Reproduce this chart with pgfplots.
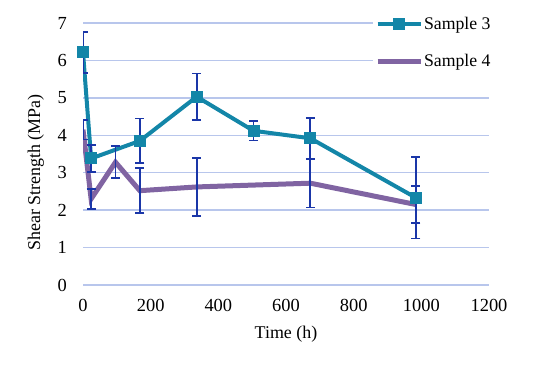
\documentclass[border=0pt]{standalone}
\usepackage{pgfplots}
\pgfplotsset{compat=1.18}
\usepackage{fontspec}
\setmainfont{Liberation Serif}
\definecolor{tealS}{HTML}{1386A8}
\definecolor{purpS}{HTML}{8064A2}
\definecolor{errB}{HTML}{1A36A8}
\definecolor{gridB}{HTML}{B8C6EC}
\pgfplotstableread{
t y e
0 6.22 0.55
24 3.38 0.36
168 3.85 0.60
336 5.03 0.62
504 4.12 0.26
672 3.92 0.54
984 2.33 1.09
}\sthree
\pgfplotstableread{
t y e
0 4.15 0.26
24 2.30 0.27
96 3.28 0.43
168 2.52 0.60
336 2.62 0.78
672 2.72 0.65
984 2.15 0.50
}\sfour
\begin{document}
\fontsize{18}{21}\selectfont
\begin{tikzpicture}
\path[use as bounding box] (0,0) rectangle (538bp,369bp);
\begin{axis}[
  at={(83bp,84bp)}, anchor=south west,
  scale only axis, width=406bp, height=262bp,
  xmin=0, xmax=1200, ymin=0, ymax=7,
  xtick={0,200,...,1200}, ytick={0,1,...,7},
  axis line style={draw=none},
  tick style={draw=none},
  ymajorgrids, grid style={gridB, line width=1.3bp},
  /pgf/number format/assume math mode=true,
  /pgf/number format/1000 sep={},
  tick label style={font=\fontsize{18.5}{21}\selectfont},
  yticklabel style={inner sep=0pt, anchor=east, xshift=-16bp},
  xticklabel style={inner sep=0pt, anchor=north, yshift=-14bp},
  label style={font=\fontsize{17.8}{21}\selectfont},
  every axis x label/.style={at={(axis description cs:0.5,-0.2023)}, anchor=base},
  every axis y label/.style={at={(axis description cs:-0.1059,0.429)}, anchor=base, rotate=90},
  xlabel={Time (h)}, ylabel={Shear Strength (MPa)},
  legend style={at={(axis description cs:0.714,1.039)}, anchor=north west, draw=none, fill=white,
    font=\fontsize{17.8}{21}\selectfont, row sep=18bp, inner sep=2bp,
    nodes={inner xsep=1bp}},
  legend cell align=left,
  legend image code/.code={\draw[mark repeat=2,mark phase=2,#1] plot coordinates {(0bp,0bp) (21bp,0bp) (43bp,0bp)};},
]
\addplot[tealS, line width=4bp, mark=square*, mark size=5.5bp, mark options={line width=0pt, fill=tealS}] table[x=t,y=y] {\sthree};
\addlegendentry{Sample 3}
\addplot[purpS, line width=5bp] table[x=t,y=y] {\sfour};
\addlegendentry{Sample 4}
\addplot[draw=none, mark=none, forget plot, error bars/.cd, y dir=both, y explicit,
  error bar style={errB, line width=1.8bp}, error mark options={errB, line width=1.8bp, mark size=4.5bp, rotate=90}]
  table[x=t,y=y,y error=e] {\sthree};
\addplot[draw=none, mark=none, forget plot, error bars/.cd, y dir=both, y explicit,
  error bar style={errB, line width=1.8bp}, error mark options={errB, line width=1.8bp, mark size=4.5bp, rotate=90}]
  table[x=t,y=y,y error=e] {\sfour};
\end{axis}
\end{tikzpicture}
\end{document}
